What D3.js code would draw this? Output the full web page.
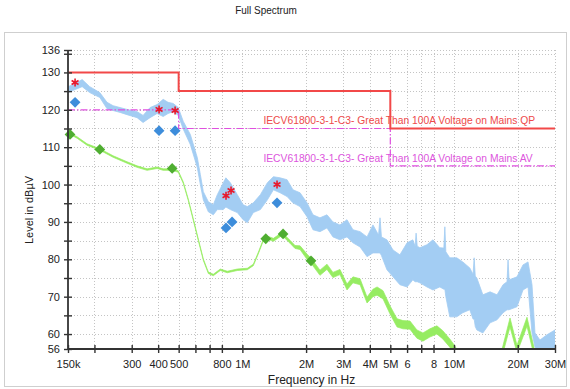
<!DOCTYPE html>
<html><head><meta charset="utf-8">
<script src="https://cdn.jsdelivr.net/npm/d3@7"></script>
<style>
html,body{margin:0;padding:0;background:#fff;}
svg{display:block;font-family:"Liberation Sans",Arial,sans-serif;}
</style></head>
<body><svg id="c" width="570" height="389"></svg>
<script>
// ---- data ----
const xTickValues = [0.15,0.2,0.3,0.4,0.5,0.6,0.7,0.8,1,2,3,4,5,6,7,8,10,20,30];
const xTickLabels = ["150k","","300","400","500","","","800","1M","2M","3M","4M","5M","6","","8","10M","20M","30M"];
const yTickValues = [56,60,70,80,90,100,110,120,130,136];
const yMinorTicks = [65,75,85,95,105,115,125,135];
const yGridValues = [60,65,70,75,80,85,90,95,100,105,110,115,120,125,130,135,136];

const limitFreq = [0.15,0.5,0.5,5,5,30];
const qpLimit = [130,130,125,125,115,115];
const avLimit = [120,120,115,115,105,105];
const qpLabel = "IECV61800-3-1-C3- Great Than 100A Voltage on Mains QP";
const avLabel = "IECV61800-3-1-C3- Great Than 100A Voltage on Mains AV";

const blueFreq = [0.15,0.162,0.175,0.19,0.212,0.2293,0.245,0.2643,0.2852,0.318,0.3395,0.3663,0.3955,0.4224,0.4455,0.471,0.4977,0.5258,0.5676,0.6126,0.6329,0.6539,0.6905,0.729,0.7614,0.8127,0.8354,0.877,0.9462,1.008,1.055,1.1265,1.2165,1.3128,1.4016,1.5066,1.626,1.734,1.873,2.02,2.156,2.326,2.51,2.679,2.891,3.121,3.331,3.598,3.882,4.14,4.40,4.47,4.54,4.82,5.15,5.55,6.0,6.39,6.55,6.62,6.7,6.9,7.45,7.95,8.57,8.95,9.05,9.15,9.55,10.3,11.0,11.87,12.3,12.45,12.6,12.82,13.69,14.8,15.96,17.05,17.8,18.0,18.2,19.84,21.18,22.37,23.36,24.13,25.48,27.48,30];
const blueHi = [126.2,127.0,128.1,126.2,124.6,122.0,121.1,120.6,120.1,119.5,118.5,120.6,121.4,122.8,122.0,121.7,120.6,116.9,113.4,107.2,102.7,98.1,95.4,94.6,97.3,100.5,101.8,100.5,97.3,94.6,94.1,95.1,97.3,100.5,102.1,101.8,101.3,98.6,97.8,95.1,91.9,91.1,91.9,90.0,89.2,90.6,87.9,87.4,86.0,89.2,86.5,91.1,86.0,85.2,82.5,81.2,84.4,85.2,83.5,87.0,83.5,83.1,83.9,85.2,83.1,83.0,88.7,82.0,80.4,80.4,79.3,77.7,76.0,80.4,75.5,75.0,70.5,71.3,70.5,73.2,74.0,79.9,74.5,75.3,78.5,79.3,73.2,60.3,58.4,59.8,61.1];
const blueLo = [124.6,125.4,126.2,124.6,123.3,120.3,119.8,119.3,118.7,117.9,116.6,117.9,119.0,118.2,119.0,119.5,118.5,114.8,110.7,104.5,100.0,95.9,92.7,91.9,93.3,93.3,94.0,93.3,92.5,90.6,89.8,92.5,93.3,95.9,98.6,97.8,96.8,95.1,94.1,91.4,87.9,87.4,88.4,86.0,85.2,86.0,84.4,83.3,80.7,81.7,81.7,81.7,81.0,77.2,75.3,73.2,72.6,74.5,74.0,74.0,74.0,73.7,72.6,71.8,72.6,72.0,72.0,70.0,64.6,64.6,65.7,66.5,64.0,64.0,62.0,61.1,60.3,63.0,63.8,65.7,66.5,66.5,66.5,67.3,71.8,72.6,60.3,56.5,55.5,55.5,55.5];

const greenFreq = [0.15,0.1655,0.1846,0.212,0.245,0.2852,0.318,0.3546,0.3955,0.4224,0.4659,0.4977,0.5258,0.5553,0.5864,0.6193,0.6539,0.6905,0.729,0.7866,0.8489,0.9462,1.055,1.1265,1.19,1.257,1.313,1.402,1.54,1.679,1.773,1.873,2.02,2.132,2.326,2.51,2.679,2.891,3.121,3.331,3.598,3.882,4.14,4.33,4.62,4.98,5.38,5.74,6.19,6.68,7.13,7.69,8.30,8.85,9.55,10.1,10.7,16.5,17.05,18.39,19.84,22.12,23.61,24.4,30];
const greenHi = [114.1,112.8,110.9,109.6,107.7,106.1,105.0,104.2,104.7,104.2,104.2,103.7,100.7,96.1,90.8,85.4,80.1,76.6,76.0,77.4,76.8,77.4,77.6,78.7,81.9,85.4,86.2,85.6,87.2,85.1,83.7,83.6,81.4,80.0,77.1,78.7,76.5,77.3,73.4,75.3,74.8,69.9,72.0,72.6,71.6,67.6,64.1,63.6,63.5,61.1,60.3,61.4,62.2,60.9,58.7,56.8,54,54,57,64.3,57,64.5,57.6,54,54];
const greenLo = [113.7,112.4,110.5,109.2,107.3,105.7,104.6,103.8,104.3,103.8,103.8,103.3,100.3,95.7,90.4,85.0,79.7,76.2,75.6,77.0,76.4,77.0,77.2,78.3,81.5,85.0,85.4,84.8,86.4,84.3,82.9,82.6,80.0,78.6,75.7,77.3,75.1,75.9,71.8,73.7,73.2,68.3,70.0,70.4,69.4,65.4,61.9,61.4,61.3,58.9,58.1,59.2,60.0,58.7,56.5,54.6,53,53,55,61.9,55,62.1,55.4,53,53];

const qpMarkFreq = [0.162,0.404,0.481,0.837,0.884,1.458];
const qpMarkLevel = [127.3,120.1,119.8,97.0,98.4,100.0];
const qpValFreq = [0.162,0.404,0.481,0.837,0.894,1.458];
const qpValLevel = [122.0,114.4,114.4,88.4,90.0,95.1];
const avValFreq = [0.1533,0.212,0.4659,1.29,1.557,2.11];
const avValLevel = [113.4,109.4,104.3,85.5,86.8,79.6];

// ---- chart ----
const svg = d3.select("#c");
const L = 68, R = 555, T = 50, B = 349;
const x = d3.scaleLog().domain([0.15,30]).range([L,R]);
const y = d3.scaleLinear().domain([56,136]).range([B,T]);

svg.append("rect").attr("x",4.5).attr("y",32.5).attr("width",562).attr("height",354)
  .attr("fill","none").attr("stroke","#cfcfcf").attr("stroke-width",1);

svg.append("text").attr("x",266).attr("y",14).attr("text-anchor","middle")
  .attr("font-size",10).attr("fill","#222").text("Full Spectrum");

// grid
const grid = svg.append("g").attr("stroke","#c4c4c4").attr("stroke-dasharray","1,2").attr("stroke-width",1);
grid.selectAll("line.h").data(yGridValues).join("line").attr("class","h")
  .attr("x1",L).attr("x2",R).attr("y1",d=>Math.round(y(d))+0.5).attr("y2",d=>Math.round(y(d))+0.5);
grid.selectAll("line.v").data(xTickValues.slice(1)).join("line").attr("class","v")
  .attr("y1",T).attr("y2",B).attr("x1",d=>Math.round(x(d))+0.5).attr("x2",d=>Math.round(x(d))+0.5);

svg.append("clipPath").attr("id","clip").append("rect").attr("x",L).attr("y",T).attr("width",R-L).attr("height",B-T);
const plot = svg.append("g").attr("clip-path","url(#clip)");

// blue trace
const blueData = blueFreq.map((f,i)=>({f,hi:blueHi[i],lo:blueLo[i]}));
plot.append("path").datum(blueData)
  .attr("d", d3.area().x(d=>x(d.f)).y0(d=>y(d.lo)).y1(d=>y(d.hi)))
  .attr("fill","#a3cdf3").attr("stroke","#a3cdf3").attr("stroke-width",0.8);

// green trace
const greenData = greenFreq.map((f,i)=>({f,hi:greenHi[i],lo:greenLo[i]}));
plot.append("path").datum(greenData)
  .attr("d", d3.area().x(d=>x(d.f)).y0(d=>y(d.lo)).y1(d=>y(d.hi)))
  .attr("fill","#96ec62").attr("stroke","#96ec62").attr("stroke-width",0.7);

// limit lines
const lineGen = d3.line().x(d=>x(d[0])).y(d=>y(d[1]));
plot.append("path").datum(limitFreq.map((f,i)=>[f,avLimit[i]])).attr("d",lineGen)
  .attr("fill","none").attr("stroke","#e04fe0").attr("stroke-width",1.2).attr("stroke-dasharray","7,2,1.5,2");
plot.append("path").datum(limitFreq.map((f,i)=>[f,qpLimit[i]])).attr("d",lineGen)
  .attr("fill","none").attr("stroke","#f24848").attr("stroke-width",2);

svg.append("text").attr("x",x(1.257)).attr("y",y(qpLimit[4])-4).attr("font-size",10.3)
  .attr("fill","#ee4a4a").text(qpLabel);
svg.append("text").attr("x",x(1.257)).attr("y",y(avLimit[4])-4).attr("font-size",10.3)
  .attr("fill","#dd55dd").text(avLabel);

// markers
svg.append("g").selectAll("path").data(avValFreq.map((f,i)=>[f,avValLevel[i]])).join("path")
  .attr("transform",d=>`translate(${x(d[0])},${y(d[1])}) rotate(45)`)
  .attr("d",d3.symbol(d3.symbolSquare,58)).attr("fill","#4fae31");
svg.append("g").selectAll("path").data(qpValFreq.map((f,i)=>[f,qpValLevel[i]])).join("path")
  .attr("transform",d=>`translate(${x(d[0])},${y(d[1])}) rotate(45)`)
  .attr("d",d3.symbol(d3.symbolSquare,58)).attr("fill","#3d8ddb");
svg.append("g").selectAll("path").data(qpMarkFreq.map((f,i)=>[f,qpMarkLevel[i]])).join("path")
  .attr("transform",d=>`translate(${x(d[0])},${y(d[1])})`)
  .attr("d",d3.symbol(d3.symbolAsterisk,45)).attr("fill","none").attr("stroke","#e8192c").attr("stroke-width",1.6);

// axes
const yAxis = svg.append("g").attr("transform",`translate(${L},0)`)
  .call(d3.axisLeft(y).tickValues(yTickValues).tickSize(4).tickPadding(4).tickFormat(d3.format("d")));
const yMinor = svg.append("g").attr("transform",`translate(${L},0)`)
  .call(d3.axisLeft(y).tickValues(yMinorTicks).tickSize(4).tickFormat(""));
const xAxis = svg.append("g").attr("transform",`translate(0,${B})`)
  .call(d3.axisBottom(x).tickValues(xTickValues).tickSize(4).tickPadding(7).tickFormat((d,i)=>xTickLabels[i]));
[yAxis,yMinor].forEach(g=>{
  g.selectAll(".tick line").attr("x1",4).attr("x2",-4);
});
xAxis.selectAll(".tick line").attr("y1",-4).attr("y2",4);
[yAxis,yMinor,xAxis].forEach(g=>{
  g.select(".domain").attr("stroke","#333").attr("stroke-width",1.8);
  g.selectAll(".tick line").attr("stroke","#333").attr("stroke-width",1.4);
  g.selectAll("text").attr("font-size",11).attr("fill","#222").attr("font-family","Liberation Sans, Arial, sans-serif");
});
yMinor.select(".domain").remove();
yAxis.select(".domain").attr("d",`M0,${B}V${T}`);
xAxis.select(".domain").attr("d",`M${L},0H${R}`);

svg.append("text").attr("x",(L+R)/2).attr("y",384).attr("text-anchor","middle")
  .attr("font-size",12).attr("fill","#222").text("Frequency in Hz");
svg.append("text").attr("transform","translate(33,210) rotate(-90)").attr("text-anchor","middle")
  .attr("font-size",11).attr("fill","#222").text("Level in dBµV");
</script></body></html>
